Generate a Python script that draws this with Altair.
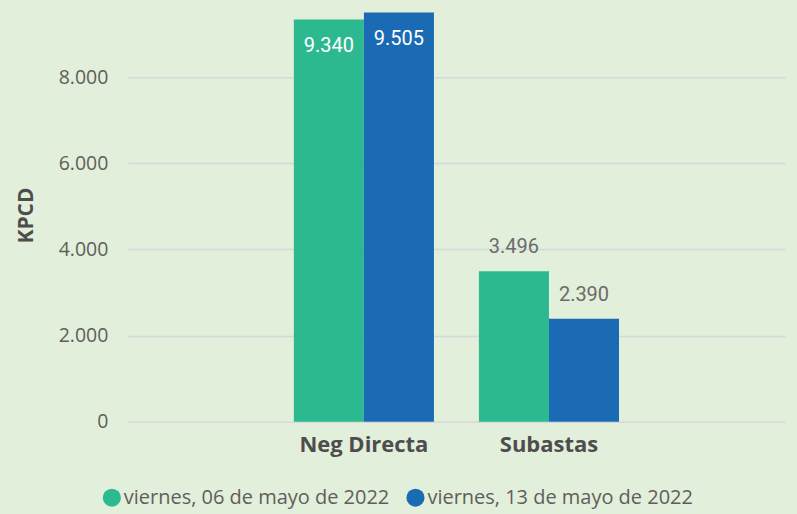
import altair as alt
import pandas as pd

categories = ["Neg Directa", "Neg Directa", "Subastas", "Subastas"]
series = ["viernes, 06 de mayo de 2022", "viernes, 13 de mayo de 2022",
          "viernes, 06 de mayo de 2022", "viernes, 13 de mayo de 2022"]
values = [9340, 9505, 3496, 2390]

df = pd.DataFrame({"cat": categories, "serie": series, "val": values})

series_order = ["viernes, 06 de mayo de 2022", "viernes, 13 de mayo de 2022"]
colors = ["#2db98f", "#1a6bb4"]
BG = "#e2efda"

x_enc = alt.X("cat:N", title=None, sort=["Neg Directa", "Subastas"],
              scale=alt.Scale(paddingInner=0.243, paddingOuter=0.897),
              axis=alt.Axis(labelAngle=0, labelFont="Open Sans", labelFontWeight="bold",
                            labelFontSize=22, labelColor="#4d4d4d", labelPadding=13,
                            ticks=False, domain=False))
xo = alt.XOffset("serie:N", sort=series_order, scale=alt.Scale(paddingInner=0, paddingOuter=0))
y_enc = alt.Y("val:Q", title="KPCD",
              scale=alt.Scale(domain=[0, 9600], nice=False),
              axis=alt.Axis(values=[0, 2000, 4000, 6000, 8000], format=",.0f",
                            labelFont="Open Sans", labelFontSize=19.5, labelColor="#605e5c",
                            labelPadding=20, ticks=False, domain=False,
                            gridColor="#d8d8dc", gridWidth=1.5,
                            titleFont="Open Sans", titleFontSize=21, titleFontWeight="bold",
                            titleColor="#4d4d4d", titlePadding=22))

base = alt.Chart(df)

bars = base.mark_bar().encode(
    x=x_enc, xOffset=xo, y=y_enc,
    color=alt.Color("serie:N", sort=series_order,
                    scale=alt.Scale(domain=series_order, range=colors),
                    legend=alt.Legend(title=None, orient="none", direction="horizontal",
                                      legendX=-26, legendY=480,
                                      symbolType="circle", symbolSize=330, symbolOpacity=1,
                                      labelFont="Open Sans", labelFontSize=20,
                                      labelColor="#605e5c", columnPadding=16, labelLimit=0,
                                      symbolOffset=0, labelOffset=2))
)

inside = base.transform_filter(alt.datum.cat == "Neg Directa").mark_text(
    dy=27, baseline="middle", font="Roboto", fontSize=20, color="white"
).encode(x=x_enc, xOffset=xo, y=y_enc, text=alt.Text("val:Q", format=",.0f"))

outside = base.transform_filter(alt.datum.cat == "Subastas").mark_text(
    dy=-24, baseline="middle", font="Roboto", fontSize=20, color="#6b6b6b"
).encode(x=x_enc, xOffset=xo, y=y_enc, text=alt.Text("val:Q", format=",.0f"))

chart = alt.layer(bars, inside, outside).properties(
    width=658, height=414, background=BG,
    padding={"left": 15, "top": 8, "right": 12, "bottom": 8}
).configure_view(stroke=None)

chart.save("out.html", embed_options={
    "renderer": "svg", "actions": False,
    "formatLocale": {"decimal": ",", "thousands": ".", "grouping": [3], "currency": ["", " €"]}
})
